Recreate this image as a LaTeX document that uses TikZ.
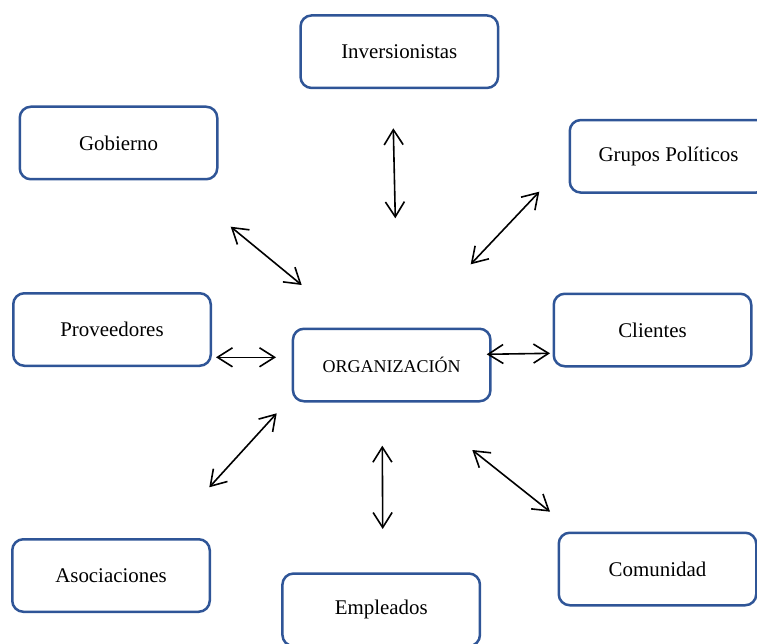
\documentclass[tikz,border=0pt]{standalone}
\usepackage{fontspec}
\setmainfont{Liberation Serif}
\usetikzlibrary{arrows.meta}
\definecolor{edge}{HTML}{2F5597}
\tikzset{
  box/.style={draw=edge,fill=white,rounded corners=11pt,minimum width=197.5pt,
    minimum height=72.5pt,line width=2.5pt,inner sep=0pt,align=center,
    font=\fontsize{20.9}{25}\selectfont},
  org/.style={box,font=\fontsize{18}{22}\selectfont},
  link/.style={{Straight Barb[length=15pt,width=19pt]}-{Straight Barb[length=15pt,width=19pt]},
    line width=1.6pt}
}

\begin{document}
\begin{tikzpicture}[x=1pt,y=-1pt]
  \useasboundingbox (0,0) rectangle (757,644);
  % stakeholders
  \node[org] (org) at (391.7,365) {ORGANIZACIÓN};
  \node[box] (inv) at (399.3,51.7) {Inversionistas};
  \node[box] (gob) at (118.5,143) {Gobierno};
  \node[box] (gru) at (668.5,156.3) {Grupos Políticos};
  \node[box] (pro) at (112,329.5) {Proveedores};
  \node[box] (cli) at (652.5,330) {Clientes};
  \node[box] (aso) at (111,575.5) {Asociaciones};
  \node[box] (emp) at (381.2,609.8) {Empleados};
  \node[box] (com) at (657.5,569) {Comunidad};
  % arrow ends
  \coordinate (inv-a) at (393.3,128.3);  \coordinate (inv-b) at (395.3,218.3);
  \coordinate (gru-a) at (539.3,191.7);  \coordinate (gru-b) at (470.7,264.3);
  \coordinate (gob-a) at (230.7,226.7);  \coordinate (gob-b) at (301.7,285);
  \coordinate (pro-a) at (216,357.3);    \coordinate (pro-b) at (276,357.3);
  \coordinate (cli-a) at (486.7,354.3);  \coordinate (cli-b) at (550,353.3);
  \coordinate (aso-a) at (276.7,413.3);  \coordinate (aso-b) at (209.3,487.3);
  \coordinate (emp-a) at (382.3,445.7);  \coordinate (emp-b) at (382.7,529);
  \coordinate (com-a) at (472.3,450);    \coordinate (com-b) at (550,511.7);
  \foreach \s in {inv,gru,gob,pro,cli,aso,emp,com}{
    \draw[link] (\s-a) -- (\s-b);
  }
\end{tikzpicture}
\end{document}
